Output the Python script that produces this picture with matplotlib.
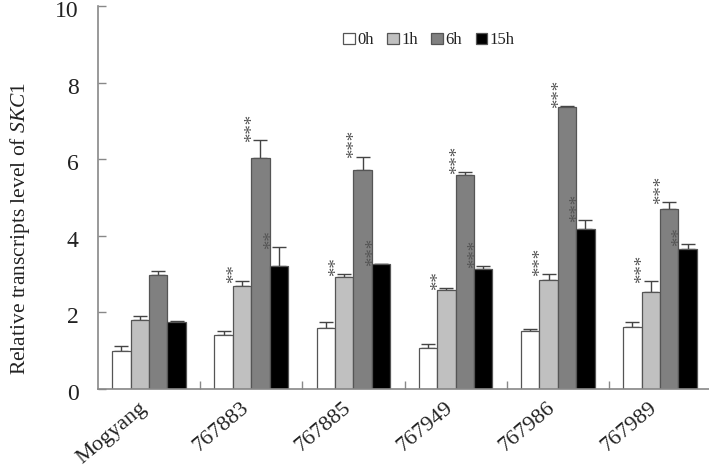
import numpy as np
import matplotlib
matplotlib.use("Agg")
import matplotlib.pyplot as plt
from matplotlib.ticker import FixedLocator, NullFormatter
from matplotlib.transforms import ScaledTranslation

plt.rcParams['font.family'] = ['Liberation Serif', 'DejaVu Serif']
plt.rcParams['mathtext.fontset'] = 'custom'
plt.rcParams['mathtext.rm'] = 'Liberation Serif'
plt.rcParams['mathtext.it'] = 'Liberation Serif:italic'

# Datos
lines = ["Mogyang", "767883", "767885", "767949", "767986", "767989"]
series = ["0h", "1h", "6h", "15h"]
vals_0h = [1.00, 1.40, 1.60, 1.06, 1.51, 1.63]
err_0h = [0.12, 0.12, 0.16, 0.11, 0.05, 0.13]
vals_1h = [1.80, 2.70, 2.93, 2.58, 2.85, 2.54]
err_1h = [0.10, 0.12, 0.08, 0.06, 0.16, 0.28]
vals_6h = [2.98, 6.02, 5.72, 5.60, 7.35, 4.70]
err_6h = [0.10, 0.48, 0.35, 0.06, 0.04, 0.18]
vals_15h = [1.76, 3.21, 3.26, 3.14, 4.19, 3.65]
err_15h = [0.02, 0.49, 0.01, 0.07, 0.22, 0.14]
stars_0h = ["", "", "", "", "", ""]
stars_1h = ["", "**", "**", "**", "***", "***"]
stars_6h = ["", "***", "***", "***", "***", "***"]
stars_15h = ["", "**", "***", "***", "***", "**"]

colors = ["#ffffff", "#c0c0c0", "#808080", "#000000"]
all_vals = [vals_0h, vals_1h, vals_6h, vals_15h]
all_errs = [err_0h, err_1h, err_6h, err_15h]
all_stars = [stars_0h, stars_1h, stars_6h, stars_15h]

fig = plt.figure(figsize=(7.09, 4.70), dpi=100)
ax = fig.add_axes([98 / 709, 81 / 470, 613 / 709, 383 / 470])

x = np.arange(len(lines)) + 0.5
width = 0.18
offsets = [-0.27, -0.09, 0.09, 0.27]
edge = "#555555"

for s, vals, errs, stars, col, off in zip(series, all_vals, all_errs, all_stars, colors, offsets):
    xs = x + off
    ax.bar(xs, vals, width, color=col, edgecolor=edge, linewidth=0.9, label=s, zorder=2)
    ax.errorbar(xs, vals, yerr=[np.zeros(len(vals)), errs], fmt="none",
                ecolor="#444444", elinewidth=1.0, capsize=5, capthick=1.0, zorder=1)
    for xi, v, e, st in zip(xs, vals, errs, stars):
        if st:
            ax.text(xi - 0.075, v + e - 0.05, st, rotation=90, ha="center", va="bottom",
                    fontsize=13.5, color="#555555", zorder=3)

ax.set_xlim(0, 6)
ax.set_ylim(0, 10)
ax.set_yticks([0, 2, 4, 6, 8, 10])
ax.tick_params(axis="y", direction="in", length=6, width=1, color="#888888",
               labelsize=17, labelcolor="#222222", pad=14)
# etiquetas del eje y un poco mas abajo, como en la figura original
shift = ScaledTranslation(0, -3 / 100, fig.dpi_scale_trans)
for lab in ax.get_yticklabels():
    lab.set_transform(lab.get_transform() + shift)

# ticks entre grupos, etiquetas en el centro
ax.xaxis.set_major_locator(FixedLocator(np.arange(1, 6)))
ax.xaxis.set_major_formatter(NullFormatter())
ax.tick_params(axis="x", which="major", direction="in", length=6, width=1, color="#888888")
ax.set_xticks(x, minor=True)
ax.set_xticklabels(lines, minor=True, rotation=40, ha="right", va="center",
                   rotation_mode="anchor", fontsize=16, color="#222222")
ax.tick_params(axis="x", which="minor", length=0, pad=12)
xshift = ScaledTranslation(-5 / 100, 0, fig.dpi_scale_trans)
for lab in ax.get_xticklabels(minor=True):
    lab.set_transform(lab.get_transform() + xshift)

for sp in ["top", "right"]:
    ax.spines[sp].set_visible(False)
for sp in ["left", "bottom"]:
    ax.spines[sp].set_color("#888888")
    ax.spines[sp].set_linewidth(1.2)

ax.set_ylabel(r"Relative transcripts level of $\mathit{SKC1}$", fontsize=15.5,
              color="#222222")
ax.yaxis.set_label_coords(-0.108, 0.42)

ax.legend(loc="center", bbox_to_anchor=(0.54, 0.91), ncol=4, frameon=False,
          handlelength=0.7, handleheight=0.7, handletextpad=0.15, columnspacing=0.8,
          fontsize=12, labelcolor="#222222")

fig.savefig("out.png", dpi=100)
